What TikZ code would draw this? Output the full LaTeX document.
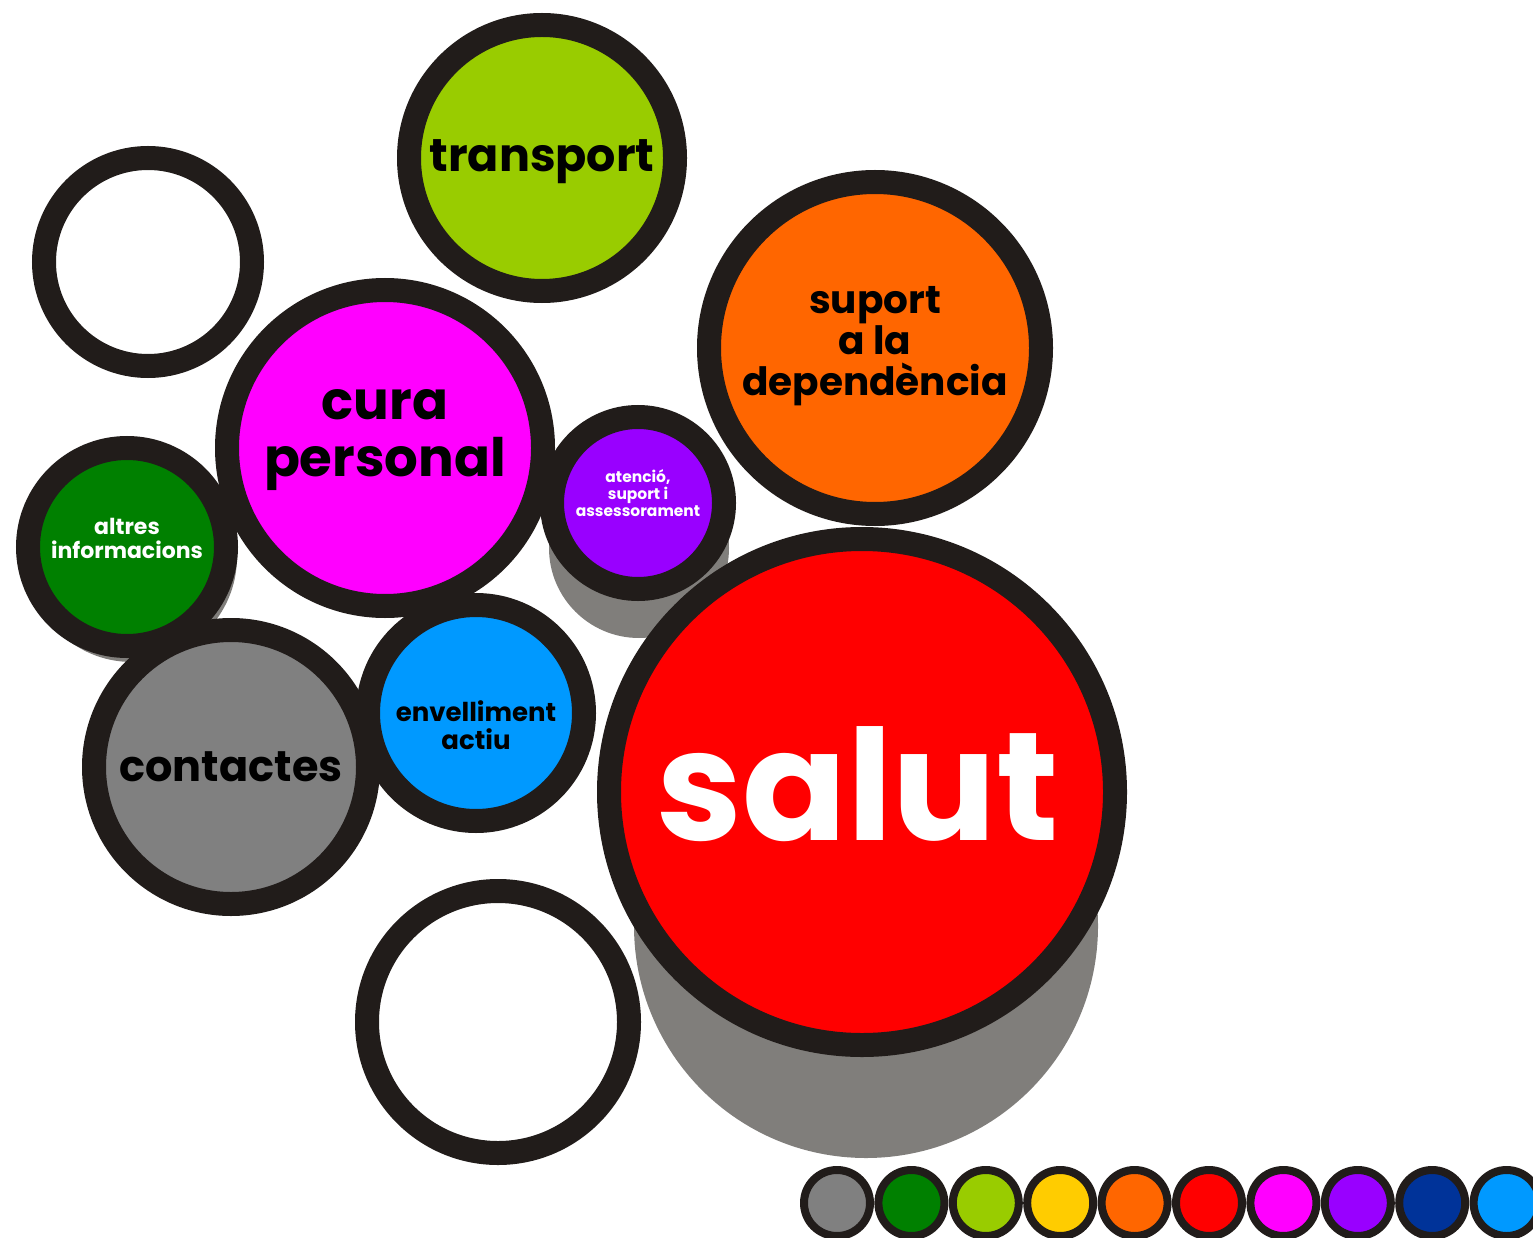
\documentclass[tikz,border=0pt]{standalone}
\usepackage{fontspec}
\setmainfont{Poppins}
\usepackage{xcolor}
\usepackage{tikz}

\definecolor{ringc}{RGB}{33,28,26}
\definecolor{shadowc}{RGB}{128,126,123}
\definecolor{cgray}{RGB}{128,128,128}
\definecolor{cgreen}{RGB}{0,128,0}
\definecolor{clime}{RGB}{153,204,0}
\definecolor{cyellow}{RGB}{255,204,0}
\definecolor{corange}{RGB}{255,102,0}
\definecolor{cred}{RGB}{255,0,0}
\definecolor{cmagenta}{RGB}{255,0,255}
\definecolor{cpurple}{RGB}{153,0,255}
\definecolor{cnavy}{RGB}{0,51,153}
\definecolor{csky}{RGB}{0,153,255}

\begin{document}
\begin{tikzpicture}[x=1pt, y=-1pt, inner sep=0pt,
  ring/.style={circle, draw=ringc, line width=24pt},
  shadow/.style={circle, fill=shadowc},
  dot/.style={circle, draw=ringc, line width=8pt, minimum size=66pt},
  label/.style={align=center, font=\bfseries}]

\useasboundingbox (0,0) rectangle (1533,1238);

\node[shadow, minimum size=464pt] (salutsh) at (866,926) {};
\node[shadow, minimum size=180pt] (atenciosh) at (639,548) {};
\node[shadow, minimum size=210pt] (altressh) at (132,557) {};

\node[ring, minimum size=208pt] (buit1) at (148,262) {};
\node[ring, minimum size=266pt, fill=clime] (transport) at (542,158) {};
\node[ring, minimum size=332pt, fill=corange] (suport) at (875,348) {};
\node[ring, minimum size=198pt, fill=cgreen] (altres) at (127,547) {};
\node[ring, minimum size=316pt, fill=cmagenta] (cura) at (385,448) {};
\node[ring, minimum size=172pt, fill=cpurple] (atencio) at (638,503) {};
\node[ring, minimum size=274pt, fill=cgray] (contactes) at (231,767) {};
\node[ring, minimum size=216pt, fill=csky] (envelliment) at (476,713) {};
\node[ring, minimum size=506pt, fill=cred] (salut) at (862,792) {};
\node[ring, minimum size=262pt] (buit2) at (498,1022) {};

\tikzstyle{every node}=[label]
\node[font=\fontsize{46}{48}\selectfont\bfseries] (ttransport) at ([yshift=-4pt]transport.center) {transport};
\node[font=\fontsize{39}{41}\selectfont\bfseries] (tsuport) at ([yshift=2pt]suport.center) {suport\\a la\\dependència};
\node[font=\fontsize{53}{57}\selectfont\bfseries] (tcura) at ([yshift=8pt]cura.center) {cura\\personal};
\node[font=\fontsize{15.5}{17}\selectfont\bfseries, text=white] (tatencio) at ([yshift=10pt]atencio.center) {atenció,\\suport i\\assessorament};
\node[font=\fontsize{22}{24}\selectfont\bfseries, text=white] (taltres) at ([yshift=9pt]altres.center) {altres\\informacions};
\node[font=\fontsize{43}{46}\selectfont\bfseries] (tcontactes) at (contactes) {contactes};
\node[font=\fontsize{26}{28}\selectfont\bfseries] (tenvelliment) at ([yshift=-12pt]envelliment.center) {envelliment\\actiu};
\node[font=\fontsize{154}{156}\selectfont\bfseries, text=white] (tsalut) at ([xshift=-4pt, yshift=8pt]salut.center) {salut};

\tikzstyle{every node}=[]
\foreach \c [count=\i from 0] in {cgray,cgreen,clime,cyellow,corange,cred,cmagenta,cpurple,cnavy,csky}
  \node[dot, fill=\c] (dot\i) at (837+74.4*\i,1203) {};
\end{tikzpicture}
\end{document}
